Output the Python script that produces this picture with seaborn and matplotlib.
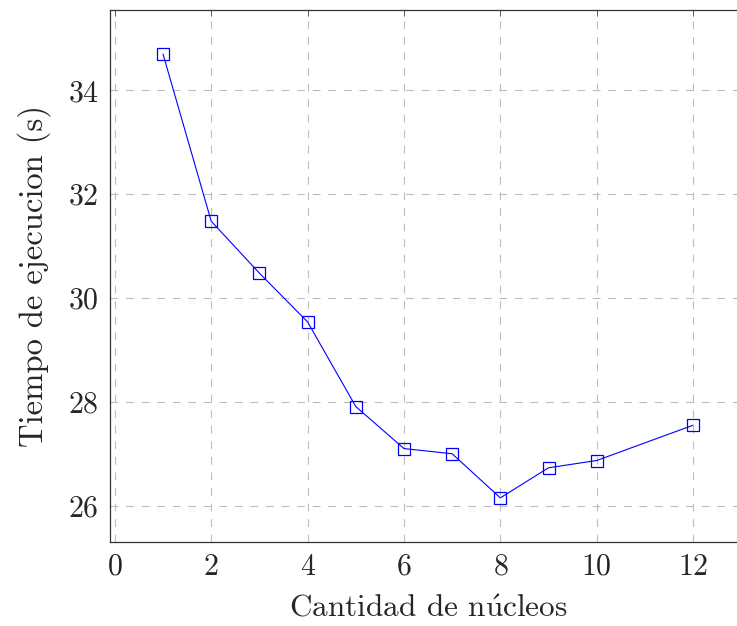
import matplotlib
matplotlib.use("Agg")
import matplotlib.pyplot as plt
import seaborn as sns
import pandas as pd

# datos
nucleos = [1, 2, 3, 4, 5, 6, 7, 8, 9, 10, 12]
tiempos = [34.70, 31.48, 30.48, 29.54, 27.91, 27.10, 27.00, 26.15, 26.73, 26.87, 27.55]

x_ticks = [0, 2, 4, 6, 8, 10, 12]
y_ticks = [26, 28, 30, 32, 34]


def main():
    sns.set_style("white")
    plt.rcParams['font.family'] = ['cmr10', 'DejaVu Serif']
    plt.rcParams['mathtext.fontset'] = 'cm'
    plt.rcParams['axes.formatter.use_mathtext'] = True

    df = pd.DataFrame({'nucleos': nucleos, 'tiempo': tiempos})

    fig = plt.figure(figsize=(7.37, 6.26), dpi=100)
    ax = fig.add_axes([0.1493, 0.1342, 0.863, 0.8498])

    sns.lineplot(data=df, x='nucleos', y='tiempo', ax=ax, color='blue',
                 linewidth=0.8, marker='s', markersize=8,
                 markerfacecolor='none', markeredgecolor='blue',
                 markeredgewidth=0.9)

    ax.set_xlim(-0.1, 13.1)
    ax.set_ylim(25.3, 35.55)
    ax.set_xticks(x_ticks)
    ax.set_yticks(y_ticks)
    ax.grid(True, color='#bdbdbd', linestyle=(0, (7, 7)), linewidth=0.8)
    ax.tick_params(direction='in', top=True, right=True, length=4, pad=8,
                   labelsize=21.5, width=0.6, color='#444444')
    for s in ax.spines.values():
        s.set_linewidth(0.9)
        s.set_color('#333333')

    ax.set_xlabel('Cantidad de n$\\acute{\\mathrm{u}}$cleos', fontsize=22.5, labelpad=10)
    ax.set_ylabel('Tiempo de ejecucion (s)', fontsize=23.5, labelpad=12)

    fig.savefig('out.png', dpi=100)


if __name__ == "__main__":
    main()
